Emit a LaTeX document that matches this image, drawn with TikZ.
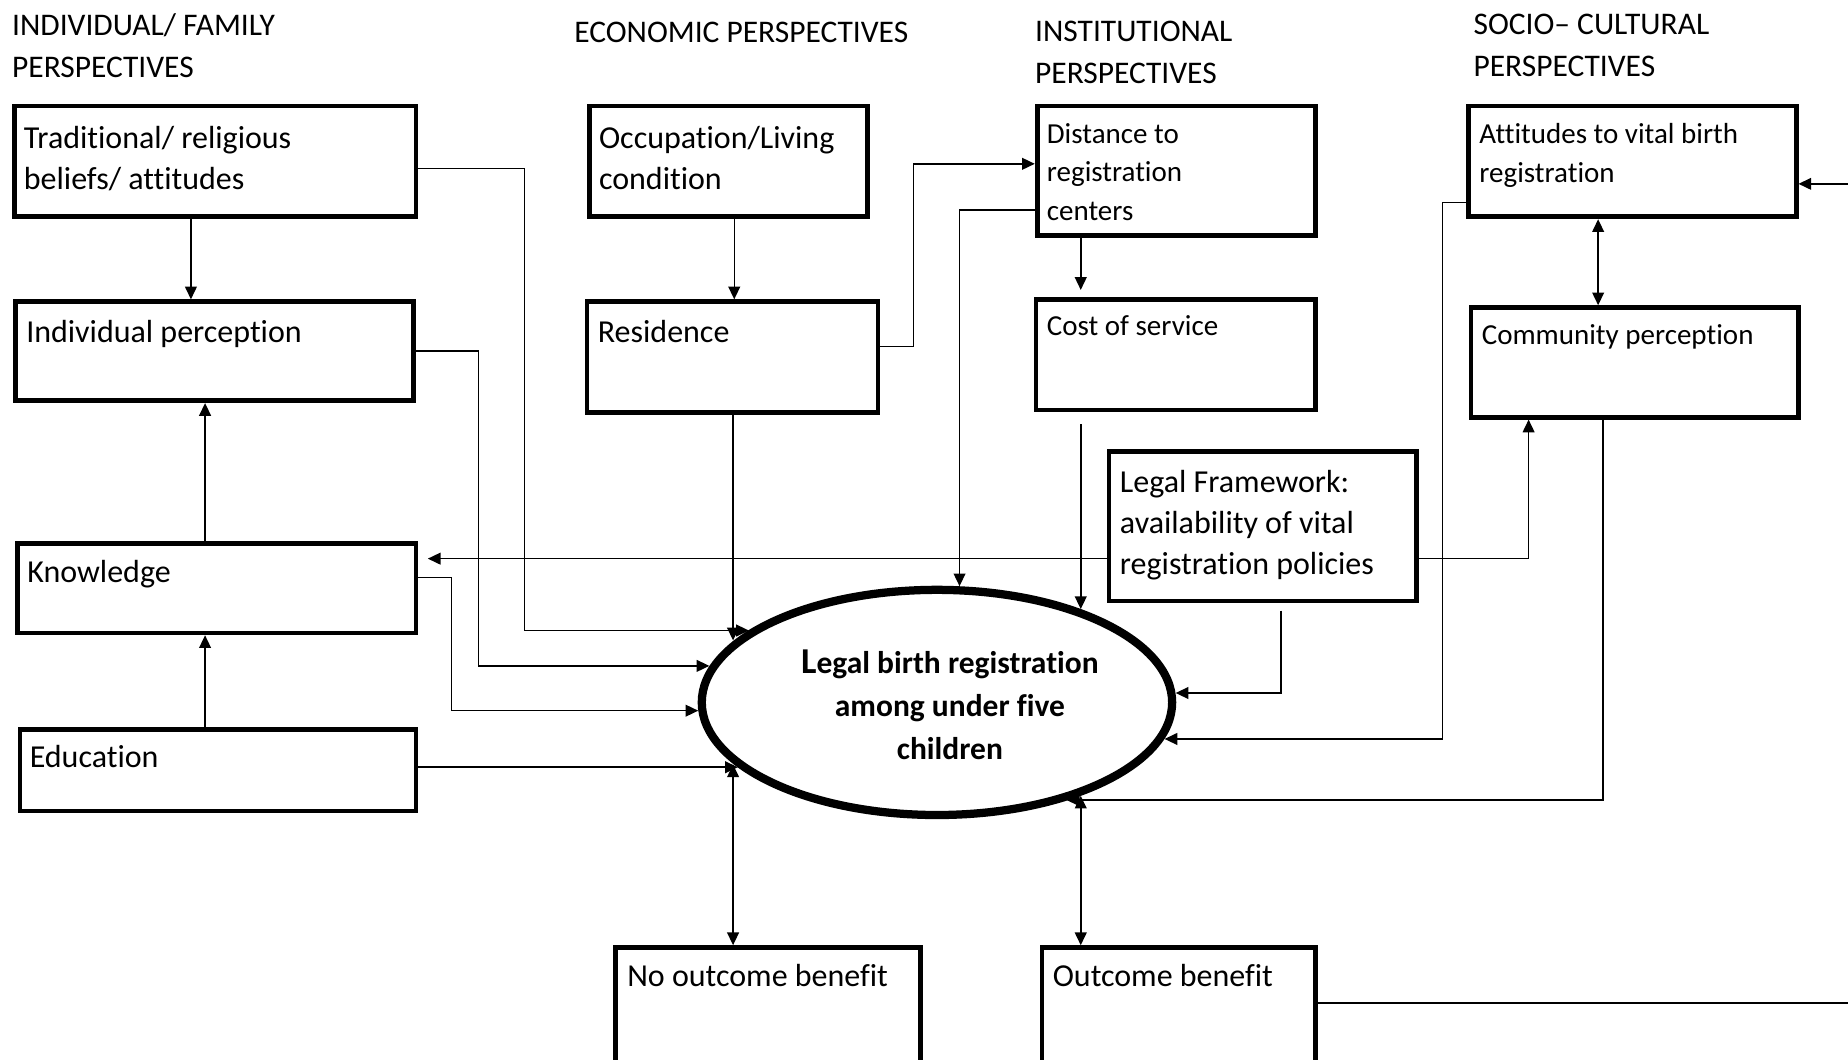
\documentclass[tikz,border=0pt]{standalone}
\usepackage{fontspec}
\setmainfont{Carlito}[Ligatures={TeX,NoCommon}]
\usetikzlibrary{arrows.meta,shapes.geometric,fit}

\begin{document}
\begin{tikzpicture}[x=0.025cm,y=-0.025cm,
  box/.style={draw,line width=0.1cm,inner sep=0pt},
  txt/.style={anchor=north west,inner sep=0pt,align=left,font=\fontsize{19.3}{24.9}\selectfont,execute at begin node=\strut},
  txs/.style={txt,font=\fontsize{17.5}{23.1}\selectfont},
  hd/.style={txt,font=\fontsize{19}{25.3}\selectfont},
  ln/.style={line width=0.032cm},
  arr/.style={ln,-{Triangle[length=0.27cm,width=0.25cm]}},
  dbl/.style={ln,{Triangle[length=0.27cm,width=0.25cm]}-{Triangle[length=0.27cm,width=0.25cm]}}]
\useasboundingbox (0,0) rectangle (1568,899);
\node[hd] (hind) at (10,11.5) {INDIVIDUAL/ FAMILY\\PERSPECTIVES};
\node[hd] (hecon) at (487,10.5) {ECONOMIC PERSPECTIVES};
\node[hd] (hinst) at (878,17.5) {INSTITUTIONAL\\PERSPECTIVES};
\node[hd] (hsoc) at (1250,11.5) {SOCIO– CULTURAL\\PERSPECTIVES};

\node[box,fit={(12,90)(353,184)}] (trad) {};
\node[box,fit={(13,256)(351,340)}] (indperc) {};
\node[box,fit={(15,461)(353,537)}] (know) {};
\node[box,fit={(17,619)(353,688)}] (edu) {};
\node[box,fit={(500,90)(736,184)}] (occ) {};
\node[box,fit={(498,256)(745,350)}] (res) {};
\node[box,fit={(880,90)(1116,200)}] (dist) {};
\node[box,fit={(879,254)(1116,348)}] (cost) {};
\node[box,fit={(941,383)(1202,510)}] (legal) {};
\node[box,fit={(1246,90)(1524,184)}] (att) {};
\node[box,fit={(1248,261)(1526,354)}] (comm) {};
\node[box,fit={(522,804)(781,915)}] (noout) {};
\node[box,fit={(884,804)(1116,915)}] (out) {};

\node[txt] (tradt) at (20,106.5) {Traditional/ religious\\beliefs/ attitudes};
\node[txt] (indpt) at (22,265.5) {Individual perception};
\node[txt] (knowt) at (23,469.5) {Knowledge};
\node[txt] (edut) at (25,626.5) {Education};
\node[txt] (occt) at (508,106.5) {Occupation/Living\\condition};
\node[txt] (rest) at (507,265.5) {Residence};
\node[txs] (distt) at (888,104.7) {Distance to\\registration\\centers};
\node[txs] (costt) at (888,261.7) {Cost of service};
\node[txt] (legalt) at (950,398.5) {Legal Framework:\\availability of vital\\registration policies};
\node[txs] (attt) at (1255,104.7) {Attitudes to vital birth\\registration};
\node[txs] (commt) at (1257,269.7) {Community perception};
\node[txt] (nooutt) at (532,812.5) {No outcome benefit};
\node[txt] (outt) at (893,812.5) {Outcome benefit};

\node[ellipse,draw,line width=0.175cm,minimum width=9.975cm,minimum height=4.775cm,inner sep=0pt] (birth) at (795,596) {};
\node[align=center,inner sep=0pt,font=\bfseries\fontsize{19}{26}\selectfont] (birtht) at (806,598)
  {{\fontsize{22}{26}\selectfont L}egal birth registration\\among under five\\children};

\coordinate (rimT) at (1568,156);
\coordinate (rimB) at (1568,851);

\draw[arr] (trad.south -| 162,0) -- (indperc.north -| 162,0);
\draw[arr] (know.north -| 174,0) -- (indperc.south -| 174,0);
\draw[arr] (edu.north -| 174,0) -- (know.south -| 174,0);
\draw[arr] (occ.south -| 623,0) -- (res.north -| 623,0);
\draw[arr,shorten >=0.15cm] (dist.south -| 917,0) -- (cost.north -| 917,0);
\draw[dbl] (att.south -| 1356,0) -- (comm.north -| 1356,0);

\draw[arr] (trad.east |- 0,143) -| (445,535) -- (birth.159 |- 0,535);
\draw[arr] (res.south -| 622,0) -- (birth.163 -| 622,0);
\draw[arr] (indperc.east |- 0,298) -| (406,565) -- (birth.171 |- 0,565);
\draw[arr] (know.east |- 0,490) -| (383,603) -- (birth.182 |- 0,603);
\draw[arr] (edu.east |- 0,651) -- (birth.198 |- 0,651);
\draw[arr,shorten >=0.2cm] (legal.west |- 0,474) -- (know.east |- 0,474);
\draw[arr] (legal.east |- 0,474) -| (comm.south -| 1297,0);
\draw[arr] (dist.west |- 0,178) -| (birth.79);
\draw[arr] (res.east |- 0,294) -- (775,294) |- (dist.west |- 0,139);
\draw[arr,shorten <=0.25cm] (cost.south -| 917,0) -- (birth.33 -| 917,0);
\draw[arr,shorten <=0.15cm] (legal.south -| 1087,0) |- (birth.2 |- 0,588);
\draw[arr] (att.west |- 0,172) -- (1224,172) |- (birth.351 |- 0,627);
\draw[arr] (comm.south -| 1360,0) |- (birth.323 |- 0,679);
\draw[dbl] (birth.197 -| 622,0) -- (noout.north -| 622,0);
\draw[dbl] (birth.327 -| 917,0) -- (out.north -| 917,0);
\draw[ln] (out.east |- 0,851) -- (rimB);
\draw[arr] (rimT) -- (att.east |- 0,156);
\end{tikzpicture}
\end{document}
